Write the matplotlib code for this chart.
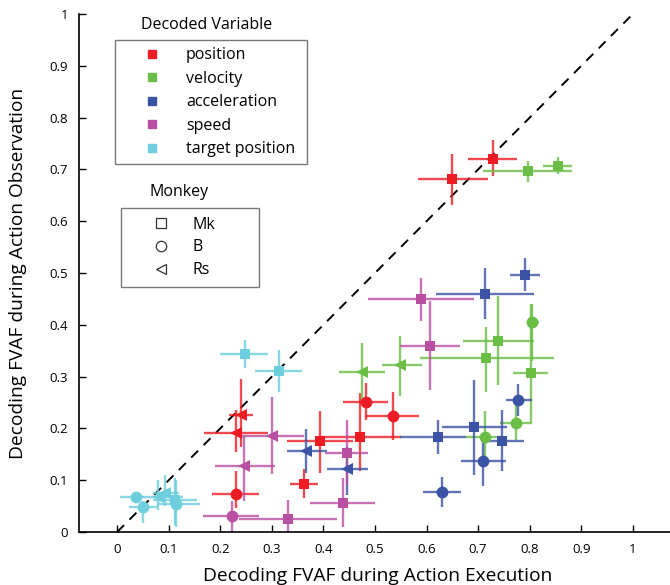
import matplotlib
matplotlib.use("Agg")
import matplotlib.pyplot as plt
from matplotlib.lines import Line2D
from matplotlib.colors import to_rgba
import numpy as np

plt.rcParams['font.family'] = ['Open Sans', 'DejaVu Sans']

variables = ["position", "velocity", "acceleration", "speed", "target position"]
colors = {"position": "#ED1C24", "velocity": "#6ABD45", "acceleration": "#3A53A4",
          "speed": "#B94FA0", "target position": "#6DCEDE"}
monkeys = ["Mk", "B", "Rs"]
monkey_markers = {"Mk": "s", "B": "o", "Rs": "<"}

# each point: variable, monkey, execution FVAF, observation FVAF, and error-bar bounds
var = (["position"] * 10 + ["velocity"] * 10 + ["acceleration"] * 10
       + ["speed"] * 8 + ["target position"] * 8)
monkey = (["Mk"] * 5 + ["B"] * 3 + ["Rs"] * 2
          + ["Mk"] * 5 + ["B"] * 3 + ["Rs"] * 2
          + ["Mk"] * 5 + ["B"] * 3 + ["Rs"] * 2
          + ["Mk"] * 5 + ["B"] * 1 + ["Rs"] * 2
          + ["Mk"] * 3 + ["B"] * 3 + ["Rs"] * 2)
exe = [0.649, 0.729, 0.470, 0.393, 0.362, 0.482, 0.534, 0.231, 0.240, 0.231,
       0.796, 0.854, 0.738, 0.716, 0.802, 0.805, 0.773, 0.714, 0.474, 0.548,
       0.791, 0.714, 0.692, 0.747, 0.623, 0.778, 0.710, 0.629, 0.367, 0.445,
       0.590, 0.607, 0.445, 0.437, 0.332, 0.222, 0.246, 0.300,
       0.248, 0.313, 0.112, 0.037, 0.050, 0.115, 0.080, 0.093]
obs = [0.681, 0.721, 0.183, 0.176, 0.093, 0.251, 0.224, 0.073, 0.226, 0.192,
       0.697, 0.707, 0.369, 0.335, 0.306, 0.405, 0.211, 0.184, 0.309, 0.322,
       0.497, 0.460, 0.202, 0.176, 0.183, 0.255, 0.137, 0.077, 0.157, 0.121,
       0.449, 0.360, 0.153, 0.056, 0.025, 0.031, 0.128, 0.186,
       0.344, 0.311, 0.062, 0.068, 0.048, 0.055, 0.067, 0.075]
exe_lo = [0.583, 0.680, 0.395, 0.330, 0.335, 0.437, 0.483, 0.184, 0.216, 0.169,
          0.709, 0.825, 0.670, 0.587, 0.768, 0.795, 0.742, 0.677, 0.430, 0.513,
          0.762, 0.618, 0.629, 0.707, 0.548, 0.754, 0.666, 0.593, 0.330, 0.406,
          0.487, 0.548, 0.403, 0.373, 0.237, 0.167, 0.189, 0.242,
          0.200, 0.267, 0.070, 0.006, 0.022, 0.080, 0.050, 0.070]
exe_hi = [0.719, 0.775, 0.550, 0.458, 0.389, 0.526, 0.585, 0.276, 0.264, 0.293,
          0.882, 0.882, 0.808, 0.847, 0.835, 0.818, 0.804, 0.748, 0.520, 0.592,
          0.820, 0.808, 0.756, 0.789, 0.677, 0.804, 0.754, 0.666, 0.406, 0.487,
          0.692, 0.665, 0.487, 0.499, 0.427, 0.276, 0.306, 0.362,
          0.293, 0.358, 0.154, 0.053, 0.077, 0.160, 0.128, 0.120]
obs_lo = [0.632, 0.687, 0.117, 0.114, 0.065, 0.217, 0.178, 0.047, 0.165, 0.155,
          0.675, 0.691, 0.284, 0.271, 0.210, 0.330, 0.178, 0.139, 0.252, 0.263,
          0.466, 0.412, 0.110, 0.117, 0.151, 0.223, 0.088, 0.048, 0.114, 0.072,
          0.408, 0.275, 0.090, 0.010, 0.000, 0.000, 0.060, 0.112,
          0.317, 0.271, 0.014, 0.056, 0.018, 0.010, 0.043, 0.050]
obs_hi = [0.729, 0.756, 0.269, 0.233, 0.121, 0.288, 0.271, 0.117, 0.296, 0.235,
          0.717, 0.723, 0.455, 0.395, 0.440, 0.440, 0.250, 0.233, 0.364, 0.379,
          0.528, 0.509, 0.293, 0.235, 0.217, 0.286, 0.188, 0.106, 0.199, 0.165,
          0.491, 0.445, 0.217, 0.104, 0.062, 0.059, 0.185, 0.261,
          0.371, 0.352, 0.104, 0.078, 0.059, 0.100, 0.100, 0.110]

xticks = [0, 0.1, 0.2, 0.3, 0.4, 0.5, 0.6, 0.7, 0.8, 0.9, 1]
xticklabels = ["0", "0.1", "0.2", "0.3", "0.4", "0.5", "0.6", "0.7", "0.8", "0.9", "1"]
yticks = xticks
yticklabels = xticklabels

W, H = 670, 585
fig = plt.figure(figsize=(W / 100, H / 100), dpi=100)
ax = fig.add_axes([79 / W, 53 / H, 1 - 79 / W, (532 - 14) / H])
ax.set_xlim(-0.074, 1.072)
ax.set_ylim(0, 1.0)

# unity line
ax.plot([0, 1], [0, 1], color="black", linestyle=(0, (5, 4)), linewidth=1.4, zorder=1)

for i in range(len(exe)):
    c = colors[var[i]]
    m = monkey_markers[monkey[i]]
    ms = 8.5 if m == "o" else (7 if m == "s" else 9)
    ax.errorbar([exe[i]], [obs[i]],
                xerr=[[exe[i] - exe_lo[i]], [exe_hi[i] - exe[i]]],
                yerr=[[obs[i] - obs_lo[i]], [obs_hi[i] - obs[i]]],
                fmt=m, color=c, ecolor=to_rgba(c, 0.8), elinewidth=1.7,
                markersize=ms, markeredgewidth=0, capsize=0, zorder=2)

ax.spines["top"].set_visible(False)
ax.spines["right"].set_visible(False)
ax.spines["left"].set_bounds(0, 1)
ax.spines["left"].set_linewidth(1.2)
ax.spines["bottom"].set_linewidth(1.2)
ax.set_xticks(xticks)
ax.set_xticklabels(xticklabels)
ax.set_yticks(yticks)
ax.set_yticklabels(yticklabels)
ax.tick_params(direction="in", length=5, width=1, labelsize=9.5, pad=8)

ax.set_xlabel("Decoding FVAF during Action Execution", fontsize=13.8)
ax.xaxis.set_label_coords((378 - 79) / (W - 79), (532 - 576) / (532 - 14), transform=ax.transAxes)
ax.xaxis.label.set_va("center")
ax.set_ylabel("Decoding FVAF during Action Observation", fontsize=13.8)
ax.yaxis.set_label_coords((18 - 79) / (W - 79), 0.5, transform=ax.transAxes)
ax.yaxis.label.set_va("center")

# legends
var_handles = [Line2D([], [], marker="s", color=colors[v], linestyle="none", markersize=6)
               for v in variables]
leg1 = ax.legend(var_handles, variables, loc="upper left",
                 bbox_to_anchor=(115 / W, 1 - 162 / H, 192 / W, 122 / H),
                 bbox_transform=fig.transFigure, mode="expand",
                 borderaxespad=0, frameon=True, fancybox=False, edgecolor="#555555",
                 fontsize=11.5, handletextpad=0.26, labelspacing=0.47, borderpad=0.45,
                 handlelength=3.73)
leg1.get_frame().set_linewidth(1.0)
ax.add_artist(leg1)

mk_handles = [Line2D([], [], marker=monkey_markers[k], color="#333333", markerfacecolor="white",
                     linestyle="none", markersize=7.5, markeredgewidth=0.9) for k in monkeys]
leg2 = ax.legend(mk_handles, monkeys, loc="upper left",
                 bbox_to_anchor=(121 / W, 1 - 283 / H, 138 / W, 75 / H),
                 bbox_transform=fig.transFigure, mode="expand",
                 borderaxespad=0, frameon=True, fancybox=False, edgecolor="#555555",
                 fontsize=11.5, handletextpad=0.0, labelspacing=0.42, borderpad=0.55,
                 handlelength=3.9)
leg2.get_frame().set_linewidth(1.0)

fig.text(207 / W, 1 - 25 / H, "Decoded Variable", ha="center", va="center", fontsize=11.5)
fig.text(179 / W, 1 - 192 / H, "Monkey", ha="center", va="center", fontsize=11.5)

fig.savefig("out.png", dpi=100)
